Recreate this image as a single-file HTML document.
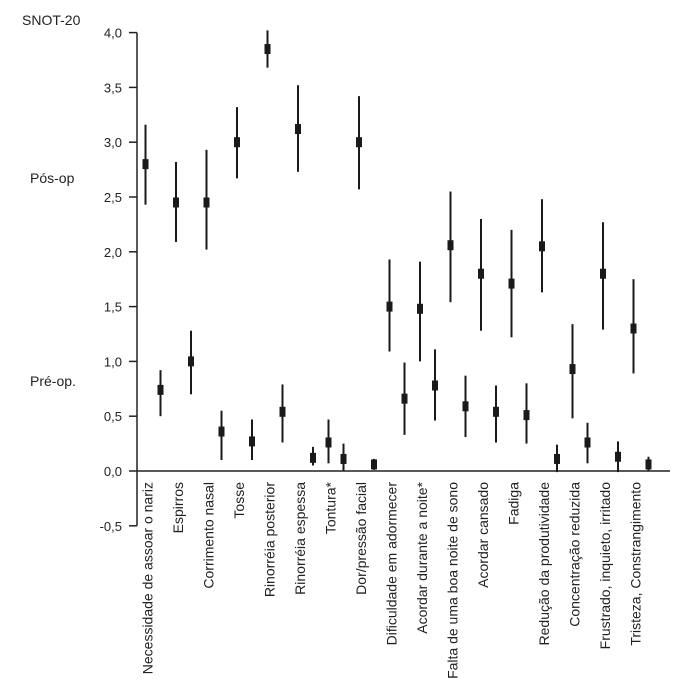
<!DOCTYPE html>
<html><head><meta charset="utf-8"><style>
body{margin:0;background:#fff}
svg text{font-family:"Liberation Sans",sans-serif;fill:#222}
</style></head><body>
<svg id="chart" width="700" height="693" xmlns="http://www.w3.org/2000/svg">
<text x="22" y="25" font-size="14">SNOT-20</text>
<text x="30" y="183" font-size="14">Pós-op</text>
<text x="30" y="386" font-size="14">Pré-op.</text>
<g id="axes"></g><g id="marks"></g><g id="labels"></g>
</svg>
<script>
const categories=["Necessidade de assoar o nariz","Espirros","Corrimento nasal","Tosse","Rinorréia posterior","Rinorréia espessa","Tontura*","Dor/pressão facial","Dificuldade em adormecer","Acordar durante a noite*","Falta de uma boa noite de sono","Acordar cansado","Fadiga","Redução da produtividade","Concentração reduzida","Frustrado, inquieto, irritado","Tristeza, Constrangimento"];
const postMean=[2.80,2.45,2.45,3.0,3.85,3.12,0.26,3.0,1.5,1.48,2.06,1.8,1.71,2.05,0.93,1.8,1.3];
const postLow=[2.43,2.09,2.02,2.67,3.68,2.73,0.07,2.57,1.09,1.0,1.54,1.28,1.22,1.63,0.48,1.29,0.89];
const postHigh=[3.16,2.82,2.93,3.32,4.02,3.52,0.47,3.42,1.93,1.91,2.55,2.30,2.2,2.48,1.34,2.27,1.75];
const preMean=[0.74,1.0,0.36,0.27,0.54,0.12,0.11,0.06,0.66,0.78,0.59,0.54,0.51,0.11,0.26,0.13,0.06];
const preLow=[0.50,0.70,0.10,0.10,0.26,0.05,0,0.01,0.33,0.46,0.31,0.26,0.25,-0.01,0.07,-0.01,0];
const preHigh=[0.92,1.28,0.55,0.47,0.79,0.22,0.25,0.11,0.99,1.11,0.87,0.78,0.80,0.24,0.44,0.27,0.13];
const yTicks=[-0.5,0,0.5,1,1.5,2,2.5,3,3.5,4];
const NS="http://www.w3.org/2000/svg";
const y=v=>471-v*109.6;
const xPost=i=>145.5+i*30.5;
const xPre=i=>xPost(i)+15;
function mk(tag,attrs,parent){const e=document.createElementNS(NS,tag);for(const k in attrs)e.setAttribute(k,attrs[k]);document.getElementById(parent).appendChild(e);return e;}
let e=mk("line",{x1:137,x2:137,y1:y(4),y2:y(-0.5),stroke:"#222","stroke-width":1.5},"axes");


e=mk("line",{x1:137,x2:670,y1:y(0),y2:y(0),stroke:"#222","stroke-width":1.5},"axes");


yTicks.forEach(t=>{
 let l=mk("line",{x1:129,x2:137,y1:y(t),y2:y(t),stroke:"#222","stroke-width":1.5},"axes");
 
 
 let tx=mk("text",{x:122,y:y(t)+5,"font-size":13,"text-anchor":"end"},"axes");
 tx.textContent=t.toFixed(1).replace('.',',');
 
 
});
categories.forEach((c,i)=>{
 [[xPost(i),postMean[i],postLow[i],postHigh[i],'post'],[xPre(i),preMean[i],preLow[i],preHigh[i],'pre']].forEach(([x,m,lo,hi,s])=>{
  let w=mk("line",{x1:x,x2:x,y1:y(hi),y2:y(lo),stroke:"#1a1a1a","stroke-width":2},"marks");
  
  
  let r=mk("rect",{x:x-3,y:y(m)-5,width:6,height:10,fill:"#1a1a1a"},"marks");
  
  
 });
 let tx=mk("text",{transform:`translate(${xPost(i)+7},482) rotate(-90)`,"font-size":14,"text-anchor":"end"},"labels");
 tx.textContent=c;
 
 
});
</script>
</body></html>
